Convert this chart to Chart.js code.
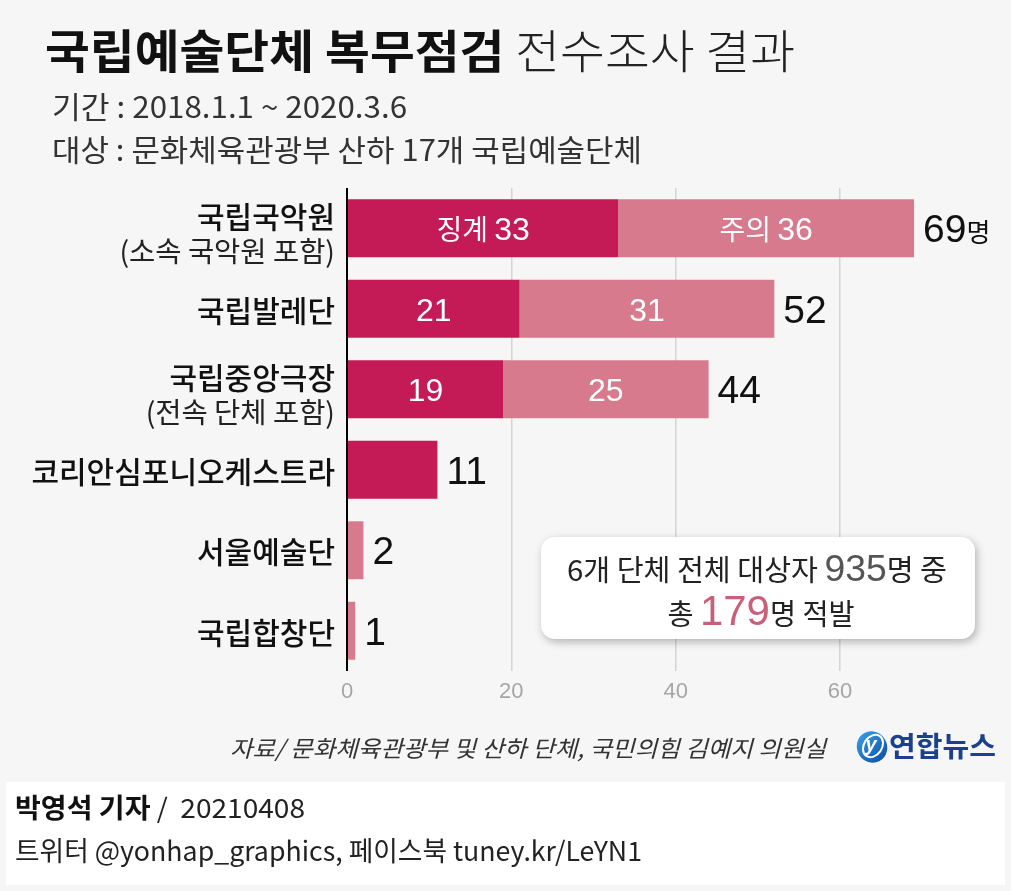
<!DOCTYPE html>
<html><head><meta charset="utf-8">
<script src="https://cdn.jsdelivr.net/npm/chart.js@4/dist/chart.umd.min.js"></script>
<style>html,body{margin:0;padding:0;background:#f6f6f6;}canvas{display:block;}</style>
</head><body><canvas id="c" width="1011" height="891"></canvas>
<script>
// ---- data ----
const categories = ['국립국악원','국립발레단','국립중앙극장','코리안심포니오케스트라','서울예술단','국립합창단'];
const notes = ['(소속 국악원 포함)','','(전속 단체 포함)','','',''];
const seriesNames = ['징계','주의'];
const discipline = [33,21,19,11,0,0];
const warning = [36,31,25,0,2,1];
const xTicks = [0,20,40,60];
const unit = '명';
const surveyedTotal = 935;
const caughtTotal = 179;
const groupCount = 6;
const titleBold = '국립예술단체 복무점검';
const titleLight = ' 전수조사 결과';
const periodText = '기간 : 2018.1.1 ~ 2020.3.6';
const targetText = '대상 : 문화체육관광부 산하 17개 국립예술단체';
const sourceText = '자료/ 문화체육관광부 및 산하 단체, 국민의힘 김예지 의원실';
const reporter = '박영석 기자';
const dateText = ' /  20210408';
const snsText = '트위터 @yonhap_graphics, 페이스북 tuney.kr/LeYN1';
const logoText = '연합뉴스';

const KR = "'Noto Sans CJK KR'";
const NUM = "'Liberation Sans', 'Noto Sans CJK KR'";
const DARK = '#C41A56', LIGHT = '#D87A8E';

function drawRuns(ctx, runs, x, y, align, targetW){
  ctx.save();
  let w = 0;
  const ws = runs.map(r => { ctx.font = r.f; const m = ctx.measureText(r.t).width; w += m; return m; });
  const sx = targetW ? targetW / w : 1;
  const tw = w * sx;
  const x0 = align === 'center' ? x - tw/2 : align === 'right' ? x - tw : x;
  ctx.translate(x0, y); ctx.scale(sx, 1);
  ctx.textBaseline = 'alphabetic'; ctx.textAlign = 'left';
  let cx = 0;
  runs.forEach((r,i) => { ctx.font = r.f; ctx.fillStyle = r.c; ctx.fillText(r.t, cx, 0); cx += ws[i]; });
  ctx.restore();
}

const bgPlugin = {
  id: 'bg',
  beforeDraw(chart){
    const ctx = chart.ctx;
    ctx.save();
    ctx.fillStyle = '#f6f6f6'; ctx.fillRect(0,0,chart.width,chart.height);
    ctx.fillStyle = '#ffffff'; ctx.fillRect(6,782,chart.width-12,chart.height-788);
    ctx.restore();
  }
};

const labelPlugin = {
  id: 'labels',
  afterDatasetsDraw(chart){
    const ctx = chart.ctx;
    const xs = chart.scales.x;
    const m0 = chart.getDatasetMeta(0), m1 = chart.getDatasetMeta(1);
    categories.forEach((c,i) => {
      const a = discipline[i], b = warning[i];
      const el0 = m0.data[i], el1 = m1.data[i];
      const yc = el0.y;
      if (a > 0 && b > 0) {
        const c0 = (el0.base + el0.x)/2, c1 = (el1.base + el1.x)/2;
        const r0 = i === 0 ? [{t:seriesNames[0]+' ', f:`28px ${KR}`, c:'#fff'}] : [];
        const r1 = i === 0 ? [{t:seriesNames[1]+' ', f:`28px ${KR}`, c:'#fff'}] : [];
        drawRuns(ctx, r0.concat([{t:String(a), f:`32px ${NUM}`, c:'#fff'}]), c0, yc+12, 'center');
        drawRuns(ctx, r1.concat([{t:String(b), f:`32px ${NUM}`, c:'#fff'}]), c1, yc+12, 'center');
      }
      const tot = a + b;
      const tx = xs.getPixelForValue(tot) + 9;
      const runs = [{t:String(tot), f:`39px ${NUM}`, c:'#111'}];
      if (i === 0) runs.push({t:unit, f:`26px ${KR}`, c:'#111'});
      drawRuns(ctx, runs, tx, yc+14, 'left');
    });
  },
  afterDraw(chart){
    const ctx = chart.ctx;
    const ys = chart.scales.y;
    // category labels
    categories.forEach((c,i) => {
      const yc = ys.getPixelForValue(i);
      if (notes[i]) {
        drawRuns(ctx, [{t:c, f:`500 30px ${KR}`, c:'#111'}], 335, yc, 'right');
        drawRuns(ctx, [{t:notes[i], f:`28.5px ${KR}`, c:'#222'}], 335, yc+34, 'right');
      } else {
        drawRuns(ctx, [{t:c, f:`500 30px ${KR}`, c:'#111'}], 335, yc+13, 'right');
      }
    });
    // title
    drawRuns(ctx, [{t:titleBold, f:`bold 46px ${KR}`, c:'#111'},{t:titleLight, f:`300 46px ${KR}`, c:'#222'}], 45, 68, 'left', 750);
    drawRuns(ctx, [{t:periodText, f:`30px ${KR}`, c:'#333'}], 52, 118, 'left', 355);
    drawRuns(ctx, [{t:targetText, f:`30px ${KR}`, c:'#333'}], 52, 161, 'left', 590);
    // summary box
    ctx.save();
    ctx.shadowColor = 'rgba(0,0,0,0.28)'; ctx.shadowBlur = 8; ctx.shadowOffsetX = 2; ctx.shadowOffsetY = 3;
    ctx.fillStyle = '#fff';
    ctx.beginPath(); ctx.roundRect(541,537,434,102,14); ctx.fill();
    ctx.restore();
    drawRuns(ctx, [
      {t:groupCount+'개 단체 전체 대상자 ', f:`29px ${KR}`, c:'#222'},
      {t:String(surveyedTotal), f:`37px ${NUM}`, c:'#555'},
      {t:unit+' 중', f:`29px ${KR}`, c:'#222'}
    ], 757, 581, 'center', 380);
    drawRuns(ctx, [
      {t:'총 ', f:`29px ${KR}`, c:'#222'},
      {t:String(caughtTotal), f:`43px ${NUM}`, c:'#C9607A'},
      {t:unit+' 적발', f:`29px ${KR}`, c:'#222'}
    ], 761, 625, 'center', 187);
    // source
    drawRuns(ctx, [{t:sourceText, f:`italic 23px ${KR}`, c:'#333'}], 826, 757, 'right', 596);
    // logo
    ctx.save();
    const g = ctx.createLinearGradient(858,732,886,762);
    g.addColorStop(0,'#3aa0e8'); g.addColorStop(1,'#0b4ea2');
    ctx.fillStyle = g;
    ctx.beginPath(); ctx.ellipse(872,747,15,16,-0.5,0,Math.PI*2); ctx.fill();
    ctx.strokeStyle = '#fff'; ctx.lineWidth = 2;
    ctx.beginPath(); ctx.ellipse(873,746,9,12,0.6,0,Math.PI*2); ctx.stroke();
    ctx.fillStyle = '#fff'; ctx.font = `italic bold 20px ${NUM}`; ctx.textAlign='center'; ctx.textBaseline='middle';
    ctx.fillText('y', 871, 745);
    ctx.restore();
    drawRuns(ctx, [{t:logoText, f:`bold 28px ${KR}`, c:'#1c3f8f'}], 889, 757, 'left', 107);
    // footer
    drawRuns(ctx, [{t:reporter, f:`bold 27px ${KR}`, c:'#111'},{t:dateText, f:`27px ${KR}`, c:'#222'}], 15, 818, 'left', 290);
    drawRuns(ctx, [{t:snsText, f:`27px ${KR}`, c:'#222'}], 15, 861, 'left', 627);
  }
};

function build(){
  new Chart(document.getElementById('c'), {
    type: 'bar',
    data: {
      labels: categories,
      datasets: [
        {label: seriesNames[0], data: discipline, backgroundColor: DARK, borderWidth: 0},
        {label: seriesNames[1], data: warning, backgroundColor: LIGHT, borderWidth: 0}
      ]
    },
    options: {
      indexAxis: 'y',
      responsive: false,
      animation: false,
      devicePixelRatio: 1,
      datasets: {bar: {categoryPercentage: 1, barPercentage: 0.72}},
      layout: {padding: {left: 347, right: 23, top: 188, bottom: 180}},
      plugins: {legend: {display: false}, tooltip: {enabled: false}, title: {display: false}},
      scales: {
        x: {
          stacked: true, min: 0, max: 78,
          afterBuildTicks: s => { s.ticks = xTicks.map(v => ({value: v})); },
          afterFit: s => { s.height = 40; },
          border: {display: false},
          grid: {
            drawTicks: false,
            color: c => c.tick && c.tick.value === 0 ? '#000' : '#d4d4d4',
            lineWidth: c => c.tick && c.tick.value === 0 ? 2 : 1.5
          },
          ticks: {padding: 8, color: '#a6a6a6', font: {family: 'Liberation Sans', size: 22}}
        },
        y: {
          stacked: true,
          afterFit: s => { s.width = 0; },
          border: {display: false},
          grid: {display: false},
          ticks: {display: false}
        }
      }
    },
    plugins: [bgPlugin, labelPlugin]
  });
}
Promise.all([
  document.fonts.load(`bold 45px ${KR}`, '국'),
  document.fonts.load(`27px ${KR}`, '국'),
  document.fonts.load(`30px 'Liberation Sans'`, '0')
]).then(build, build);
</script>
</body></html>
